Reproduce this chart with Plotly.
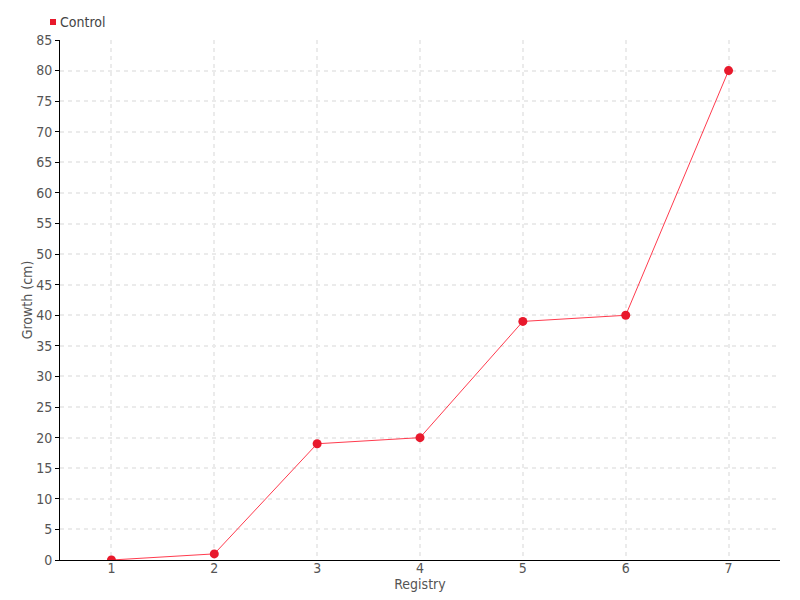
import plotly.graph_objects as go

registry = [1, 2, 3, 4, 5, 6, 7]
growth = [0, 1, 19, 20, 39, 40, 80]
y_ticks = list(range(0, 90, 5))
series_name = "Control"

FONT = "DejaVu Sans Condensed, DejaVu Sans, sans-serif"
TXT = "#555555"
GRID = "#ebebeb"

fig = go.Figure()
fig.add_trace(go.Scatter(
    x=registry, y=growth, mode="lines+markers", name=series_name,
    line=dict(color="#ff3b4e", width=1),
    marker=dict(color="#e8192c", size=9, symbol="circle"),
    showlegend=False,
))

# legend-like label: small square + text
fig.add_shape(type="rect", xref="paper", yref="paper",
              x0=-10/720, x1=-4/720, y0=1 + 15/520, y1=1 + 21/520,
              fillcolor="#e8192c", line=dict(width=0))
fig.add_annotation(text=series_name, xref="paper", yref="paper",
                   x=-2/720, y=1 + 18/520, xanchor="left", yanchor="middle",
                   showarrow=False, font=dict(size=14, color="#444444"))

fig.update_layout(
    width=800, height=600,
    margin=dict(l=60, r=20, t=40, b=40, autoexpand=False),
    paper_bgcolor="white", plot_bgcolor="white",
    font=dict(family=FONT, size=14, color=TXT),
    showlegend=False,
    xaxis=dict(
        range=[0.5, 7.5], tickvals=registry, ticktext=[str(v) for v in registry],
        showline=True, linecolor="black", linewidth=1,
        showgrid=True, gridcolor=GRID, griddash="4px,4px", gridwidth=2,
        ticks="", zeroline=False, automargin=False, ticklabelstandoff=-5,
        title=dict(text="Registry", standoff=0, font=dict(size=14, color=TXT)),
    ),
    yaxis=dict(
        range=[0, 85], tickvals=y_ticks,
        showline=True, linecolor="black", linewidth=1,
        showgrid=True, gridcolor=GRID, griddash="4px,4px", gridwidth=2,
        ticks="outside", ticklen=4, tickcolor="black", zeroline=False, automargin=False,
        title=dict(text="Growth (cm)", standoff=0, font=dict(size=14, color=TXT)),
    ),
)
fig.write_html("out.html", config={"displayModeBar": False},
               post_script="document.body.style.margin='0';")
